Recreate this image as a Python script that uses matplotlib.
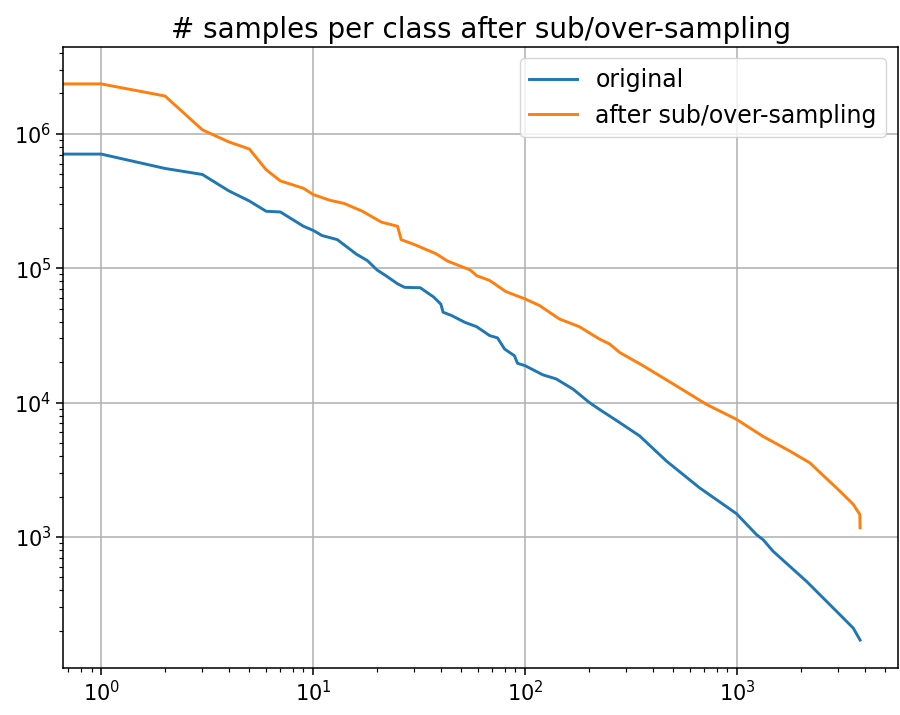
import numpy as np
import matplotlib
matplotlib.use('Agg')
import matplotlib.pyplot as plt

# class rank vs. number of samples
orig_rank = [0, 1, 2, 3, 4, 5, 6, 7, 8, 9, 10, 11, 13, 16, 18, 20, 22, 25, 27,
             32, 37, 40, 41, 45, 52, 59, 68, 74, 80, 89, 92, 100, 121, 140, 168,
             201, 224, 279, 347, 464, 665, 993, 1234, 1325, 1478, 2125, 3053,
             3527, 3800]
orig_count = [7.5e5, 7.06e5, 5.52e5, 4.98e5, 3.76e5, 3.16e5, 2.65e5, 2.62e5,
              2.3e5, 2.05e5, 1.91e5, 1.75e5, 1.63e5, 1.27e5, 1.14e5, 9.7e4,
              8.8e4, 7.65e4, 7.2e4, 7.15e4, 6.1e4, 5.4e4, 4.7e4, 4.44e4, 3.95e4,
              3.67e4, 3.15e4, 3.03e4, 2.5e4, 2.23e4, 1.96e4, 1.88e4, 1.61e4,
              1.5e4, 1.26e4, 1.0e4, 8.9e3, 7.1e3, 5.64e3, 3.67e3, 2.32e3,
              1.49e3, 1.04e3, 955, 782, 467, 264, 210, 171]

resampled_rank = [0, 1, 2, 3, 4, 5, 6, 7, 9, 10, 12, 14, 17, 21, 25, 26, 30,
                  38, 43, 55, 59, 68, 81, 100, 117, 145, 180, 224, 250, 279,
                  360, 517, 716, 993, 1325, 1770, 2203, 3053, 3527, 3790, 3800]
resampled_count = [2.74e6, 2.35e6, 1.91e6, 1.07e6, 8.7e5, 7.7e5, 5.4e5, 4.46e5,
                   3.93e5, 3.53e5, 3.2e5, 3.03e5, 2.66e5, 2.2e5, 2.05e5, 1.63e5,
                   1.5e5, 1.28e5, 1.13e5, 9.7e4, 8.8e4, 8.1e4, 6.7e4, 5.9e4,
                   5.27e4, 4.19e4, 3.67e4, 2.97e4, 2.73e4, 2.36e4, 1.88e4,
                   1.33e4, 9.7e3, 7.5e3, 5.6e3, 4.36e3, 3.56e3, 2.19e3, 1.75e3,
                   1.47e3, 1.17e3]

s = 1.4  # scale factor relative to the default style
plt.rcParams.update({
    'font.size': 15,
    'legend.fontsize': 17,
    'axes.titlesize': 20,
    'lines.linewidth': 1.5 * s,
    'axes.linewidth': 0.8 * s,
    'grid.linewidth': 0.8 * s,
    'xtick.major.size': 3.5 * s,
    'ytick.major.size': 3.5 * s,
    'xtick.minor.size': 2 * s,
    'ytick.minor.size': 2 * s,
    'xtick.major.width': 0.8 * s,
    'ytick.major.width': 0.8 * s,
    'xtick.minor.width': 0.6 * s,
    'ytick.minor.width': 0.6 * s,
})

fig = plt.figure(figsize=(9, 7.15), dpi=100)
ax = fig.add_axes([0.0703, 0.0653, 0.9275, 0.8694])

ax.plot(orig_rank, orig_count, label='original')
ax.plot(resampled_rank, resampled_count, label='after sub/over-sampling')
ax.set_xscale('log')
ax.set_yscale('log')
ax.grid(True)
ax.legend(loc='upper right')
ax.set_title('# samples per class after sub/over-sampling')

fig.savefig('out.png', dpi=100)
